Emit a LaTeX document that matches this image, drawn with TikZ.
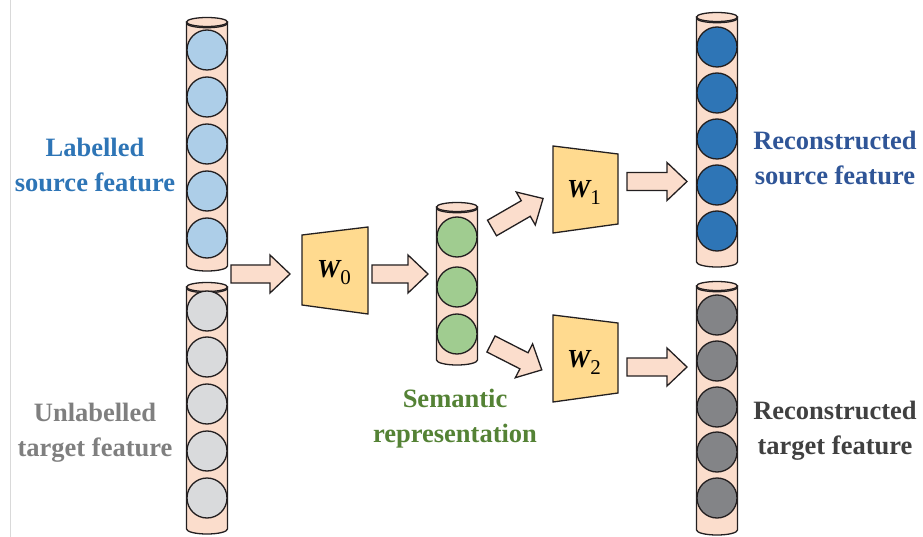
\documentclass[tikz,border=0pt]{standalone}
\usepackage{fontspec}
\setmainfont{Liberation Serif}
\usetikzlibrary{calc}
\definecolor{ink}{HTML}{231F20}
\definecolor{peach}{HTML}{FBDDCC}
\definecolor{gold}{HTML}{FFDA8F}
\definecolor{lblue}{HTML}{ADCEE8}
\definecolor{lgrey}{HTML}{D9DADC}
\definecolor{lgreen}{HTML}{A0CC90}
\definecolor{dblue}{HTML}{2E75B6}
\definecolor{dgrey}{HTML}{838487}
\definecolor{txtblue}{HTML}{2E75B6}
\definecolor{txtdblue}{HTML}{2F5597}
\definecolor{txtgrey}{HTML}{7F7F7F}
\definecolor{txtgreen}{HTML}{548235}
\definecolor{txtdark}{HTML}{404040}
\tikzset{
  outl/.style={draw=ink, line width=1.3pt},
  cylsty/.style={outl, fill=peach},
  ball/.style={circle, outl, minimum size=40pt, inner sep=0pt},
  trap/.style={outl, fill=gold, line join=miter},
  barrow/.style={outl, fill=peach, line join=miter},
  lbl/.style={font=\fontsize{26.5}{35}\selectfont\bfseries, align=center, anchor=base, inner sep=0pt},
  wl/.style={font=\fontsize{26}{26}\selectfont, inner sep=0pt},
}
% cylinder: cx, top y, bottom y
\newcommand{\mycyl}[3]{%
  \path[cylsty] (#1-20.5,#2) -- (#1-20.5,#3) arc[start angle=180,end angle=0,x radius=20.5,y radius=5] -- (#1+20.5,#2) -- cycle;
  \draw[cylsty] (#1,#2) ellipse[x radius=20.5,y radius=4.5];
  \draw[outl] (#1-20.5,#2+1.2) arc[start angle=180,end angle=0,x radius=20.5,y radius=4.5];
}
% block arrow: x, y (tail centre), angle, length
\newcommand{\blockarr}[4]{%
  \draw[barrow, shift={(#1,#2)}, rotate=#3] (0,-9) -- (#4-20,-9) -- (#4-20,-19) -- (#4,0) -- (#4-20,19) -- (#4-20,9) -- (0,9) -- cycle;
}
\newcommand{\wlab}[1]{{\bfseries\itshape W}\raisebox{-7pt}{\fontsize{21}{21}\selectfont #1}}
\begin{document}
\begin{tikzpicture}[x=1pt,y=-1pt]
\useasboundingbox (0,0) rectangle (923,537);
\draw[gray!30, line width=0.8pt] (10,0) -- (10,537);

% cylinders
\mycyl{207}{22}{266}
\foreach \i/\yy in {1/50,2/97,3/144,4/191,5/238}
  \node[ball, fill=lblue] (s\i) at (207,\yy) {};
\mycyl{207}{287}{529}
\foreach \i/\yy in {1/311,2/357,3/404,4/451,5/498}
  \node[ball, fill=lgrey] (t\i) at (207,\yy) {};
\mycyl{457}{207}{360}
\foreach \i/\yy in {1/237,2/287,3/334}
  \node[ball, fill=lgreen] (m\i) at (457,\yy) {};
\mycyl{717}{17}{262}
\foreach \i/\yy in {1/47,2/93,3/139,4/185,5/231}
  \node[ball, fill=dblue] (rs\i) at (717,\yy) {};
\mycyl{717}{286}{530}
\foreach \i/\yy in {1/315,2/361,3/407,4/452,5/498}
  \node[ball, fill=dgrey] (rt\i) at (717,\yy) {};

% trapezoids
\draw[trap] (302,235) -- (368,227) -- (368,314) -- (302,305) -- cycle;
\node[wl] (w0) at (334,273) {\wlab{0}};
\draw[trap] (553,146) -- (618,154) -- (618,224) -- (553,233) -- cycle;
\node[wl] (w1) at (584,192) {\wlab{1}};
\draw[trap] (553,315) -- (618,323) -- (618,393) -- (553,402) -- cycle;
\node[wl] (w2) at (584,362) {\wlab{2}};

% arrows
\blockarr{231}{274}{0}{59}
\blockarr{372}{274}{0}{56}
\blockarr{492}{228}{30}{59}
\blockarr{491}{344}{-27}{57}
\blockarr{627}{181.5}{0}{60}
\blockarr{627}{367}{0}{60}

% labels (anchor = baseline of the last line)
\node[lbl, text=txtblue] (lsrc) at (95,192) {Labelled\\source feature};
\node[lbl, text=txtgrey] (ltgt) at (95,456) {Unlabelled\\target feature};
\node[lbl, text=txtgreen] (lsem) at (455,442) {Semantic\\representation};
\node[lbl, text=txtdblue] (lrs) at (835,185) {Reconstructed\\source feature};
\node[lbl, text=txtdark] (lrt) at (835,454) {Reconstructed\\target feature};
\end{tikzpicture}
\end{document}
